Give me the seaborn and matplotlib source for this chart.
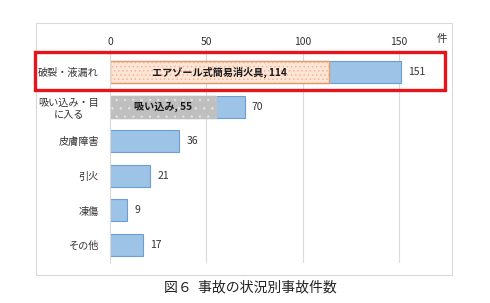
import matplotlib
matplotlib.use("Agg")
import matplotlib.pyplot as plt
import seaborn as sns
import pandas as pd
import numpy as np
from matplotlib.patches import Rectangle

categories = ["破裂・液漏れ", "吸い込み・目\nに入る", "皮膚障害", "引火", "凍傷", "その他"]
totals = [151, 70, 36, 21, 9, 17]
sub_values = [114, 55, np.nan, np.nan, np.nan, np.nan]
sub_labels = ["エアゾール式簡易消火具", "吸い込み", "", "", "", ""]
xticks = [0, 50, 100, 150]
title = "図６  事故の状況別事故件数"
unit = "件"

sns.set_theme(style="white")
plt.rcParams['font.family'] = ['Noto Sans CJK JP', 'DejaVu Sans']
plt.rcParams['hatch.linewidth'] = 0.5

fig = plt.figure(figsize=(4.9, 3.03), dpi=100)
W, H = 490, 303
ax = fig.add_axes([110 / W, 1 - 263 / H, (152 * 1.925) / W, (263 - 50) / H])

df = pd.DataFrame({"cat": categories, "total": totals, "sub": sub_values})

sns.barplot(data=df, x="total", y="cat", orient="h", color="#9DC3E6",
            width=0.64, edgecolor="#6A9FD4", linewidth=0.8, saturation=1, ax=ax)

# overlay sub-series
sub_face = ["#FCE4D6", "#BFBFBF"]
sub_hatch_col = ["#F2B48C", "#E4E4E4"]
sub_hatch = ["....", ".."]
sub_edge = ["#E39A6A", "#BFBFBF"]
n_before = len(ax.patches)
sns.barplot(data=df, x="sub", y="cat", orient="h", color="#FCE4D6",
            width=0.64, linewidth=0, saturation=1, ax=ax)
new_patches = ax.patches[n_before:]
for i, p in enumerate(new_patches[:2]):
    p.set_facecolor(sub_face[i])
    p.set_edgecolor("none")
    x0, y0 = p.get_x(), p.get_y()
    w, h = p.get_width(), p.get_height()
    hp = Rectangle((x0, y0), w, h, facecolor="none", edgecolor=sub_hatch_col[i],
                   hatch=sub_hatch[i], linewidth=0, zorder=p.get_zorder() + 0.1)
    ax.add_patch(hp)
    ep = Rectangle((x0, y0), w, h, facecolor="none", edgecolor=sub_edge[i],
                   linewidth=1.0, zorder=p.get_zorder() + 0.2)
    ax.add_patch(ep)
    ax.text(w / 2, i, f"{sub_labels[i]}, {int(sub_values[i])}", ha="center", va="center",
            fontsize=7.3, fontweight="bold", color="#1a1a1a", zorder=5)

for i, v in enumerate(totals):
    ax.text(v + 3.6, i, str(v), ha="left", va="center", fontsize=7.5, color="#333333")

ax.set_xlim(0, 152)
ax.set_ylim(5.52, -0.636)
ax.set_xticks(xticks)
ax.xaxis.tick_top()
ax.tick_params(axis="x", length=0, pad=2, labelsize=7.5, labelcolor="#333333")
ax.tick_params(axis="y", length=0, pad=8, labelsize=7.3, labelcolor="#333333")
for lab in ax.get_yticklabels():
    lab.set_horizontalalignment("right")
    lab.set_multialignment("center")
ax.set_xlabel("")
ax.set_ylabel("")
for x in xticks[1:]:
    ax.axvline(x, color="#D9D9D9", lw=0.8, zorder=0)
for s in ["top", "right", "bottom"]:
    ax.spines[s].set_visible(False)
ax.spines["left"].set_color("#D9D9D9")
ax.spines["left"].set_linewidth(0.8)
ax.set_facecolor("none")

# chart outer border
fig.patches.append(Rectangle((36 / W, 1 - 275 / H), (452 - 36) / W, (275 - 23) / H,
                             transform=fig.transFigure, facecolor="none",
                             edgecolor="#D9D9D9", linewidth=0.8))
# red highlight box
fig.patches.append(Rectangle((35 / W, 1 - 89.5 / H), (445 - 35) / W, (89.5 - 51.5) / H,
                             transform=fig.transFigure, facecolor="none",
                             edgecolor="#E8141B", linewidth=2.4, zorder=10))

fig.text(442 / W, 1 - 39 / H, unit, ha="center", va="center", fontsize=7.5, color="#333333")
fig.text(250 / W, 1 - 287 / H, title, ha="center", va="center", fontsize=10, color="#222222")

fig.savefig("out.png", dpi=100)
